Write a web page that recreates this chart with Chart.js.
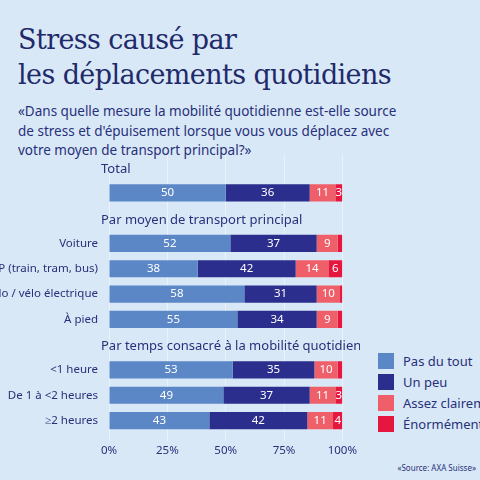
<!DOCTYPE html>
<html>
<head>
<meta charset="utf-8">
<script src="https://cdn.jsdelivr.net/npm/chart.js@4"></script>
<style>
  body { margin: 0; width: 480px; height: 480px; background: #d9e8f6; overflow: hidden; position: relative; font-family: "Noto Sans", sans-serif; color: #27307a; }
  h1 { position: absolute; left: 18px; top: 22px; margin: 0; font-family: "DejaVu Serif", serif; font-weight: normal; font-size: 27px; line-height: 35px; color: #1f2a6b; letter-spacing: -0.6px; }
  #question { position: absolute; left: 18px; top: 102px; width: 395px; font-size: 13.5px; line-height: 19.5px; }
  #chartBox { position: absolute; left: 0; top: 145px; width: 360px; height: 316px; }
  #legend { position: absolute; left: 378px; top: 350px; font-size: 13px; white-space: nowrap; }
  .item { display: flex; align-items: center; height: 21px; }
  .sw { width: 16px; height: 16px; margin-right: 9px; }
  #source { position: absolute; right: 4px; top: 462px; font-size: 8px; }
</style>
</head>
<body>
<h1>Stress causé par<br>les déplacements quotidiens</h1>
<div id="question">«Dans quelle mesure la mobilité quotidienne est-elle source de stress et d'épuisement lorsque vous vous déplacez avec votre moyen de transport principal?»</div>
<div id="chartBox"><canvas id="myChart"></canvas></div>
<div id="legend"></div>
<div id="source">«Source: AXA Suisse»</div>
<script>
// Rows: empty labels are section header rows (the Total row has no label either)
const categories = ['', ' ', '', 'Voiture', 'TP (train, tram, bus)', 'Vélo / vélo électrique', 'À pied', '', '<1 heure', 'De 1 à <2 heures', '≥2 heures'];
const headers = ['Total', null, 'Par moyen de transport principal', null, null, null, null, 'Par temps consacré à la mobilité quotidienne', null, null, null];

const seriesNames = ['Pas du tout', 'Un peu', 'Assez clairement', 'Énormément'];
const seriesColors = ['#5b87c7', '#2b2e8c', '#ef5f69', '#e6173f'];
const pasDuTout = [null, 50, null, 52, 38, 58, 55, null, 53, 49, 43];
const unPeu = [null, 36, null, 37, 42, 31, 34, null, 35, 37, 42];
const assezClairement = [null, 11, null, 9, 14, 10, 9, null, 10, 11, 11];
const enormement = [null, 3, null, 2, 6, 1, 2, null, 2, 3, 4];
const allSeries = [pasDuTout, unPeu, assezClairement, enormement];

// Legend
const legend = document.getElementById('legend');
seriesNames.forEach((name, i) => {
  const row = document.createElement('div');
  row.className = 'item';
  row.innerHTML = `<span class="sw" style="background:${seriesColors[i]}"></span>${name}`;
  legend.appendChild(row);
});

// Draw values inside bars and the section headers
const labelPlugin = {
  id: 'labels',
  afterDatasetsDraw(chart) {
    const ctx = chart.ctx;
    ctx.save();
    ctx.textAlign = 'center';
    ctx.textBaseline = 'middle';
    ctx.font = '11.5px "Noto Sans"';
    ctx.fillStyle = '#ffffff';
    chart.data.datasets.forEach((ds, di) => {
      chart.getDatasetMeta(di).data.forEach((bar, i) => {
        const v = ds.data[i];
        if (v == null || v < 3) return;
        ctx.fillText(v, (bar.x + bar.base) / 2, bar.y);
      });
    });
    ctx.textAlign = 'left';
    ctx.font = '13px "Noto Sans"';
    ctx.fillStyle = '#27307a';
    headers.forEach((h, i) => {
      if (!h) return;
      ctx.fillText(h, 101, chart.scales.y.getPixelForValue(i) + 2);
    });
    ctx.restore();
  }
};

const ctx = document.getElementById('myChart').getContext('2d');
const myChart = new Chart(ctx, {
  type: 'bar',
  data: {
    labels: categories,
    datasets: allSeries.map((d, i) => ({
      label: seriesNames[i],
      data: d,
      backgroundColor: seriesColors[i],
      barPercentage: 0.68,
      categoryPercentage: 1
    }))
  },
  options: {
    indexAxis: 'y',
    animation: false,
    maintainAspectRatio: false,
    layout: { padding: { top: 4, right: 4 } },
    scales: {
      x: {
        stacked: true,
        min: 0,
        max: 100,
        border: { display: false },
        grid: { color: 'rgba(255,255,255,0.45)' },
        ticks: { stepSize: 25, color: '#27307a', font: { size: 11.5, family: 'Noto Sans' }, callback: v => v + '%' }
      },
      y: {
        stacked: true,
        border: { display: false },
        grid: { display: false },
        afterFit: scale => { scale.width = 109; },
        ticks: { color: '#27307a', font: { size: 11.5, family: 'Noto Sans' }, autoSkip: false }
      }
    },
    plugins: {
      legend: { display: false },
      tooltip: { enabled: false }
    }
  },
  plugins: [labelPlugin]
});
</script>
</body>
</html>
